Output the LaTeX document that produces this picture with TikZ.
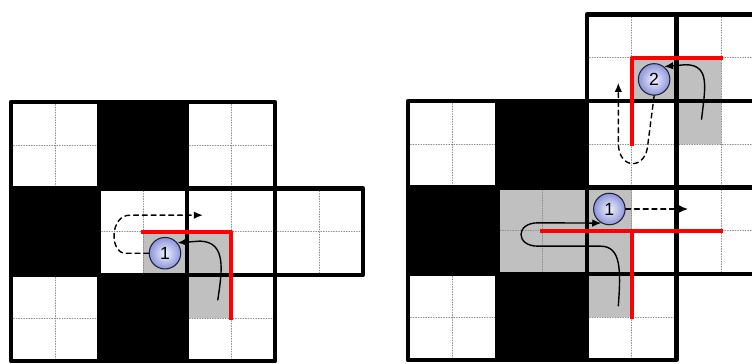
\documentclass[tikz,border=0pt]{standalone}
\usepackage{fontspec}
\setmainfont{Liberation Sans}
\usetikzlibrary{arrows.meta}
\definecolor{CellGray}{HTML}{C0C0C0}
\definecolor{HintGray}{HTML}{8A8A8A}
\definecolor{BallLight}{HTML}{F2F3FD}
\definecolor{BallBlue}{HTML}{8C95DA}
\definecolor{BallEdge}{HTML}{1E2038}
\tikzset{
  wall/.style={line width=2.5pt,line join=round},
  hint/.style={HintGray,line width=0.45pt,densely dotted},
  cut/.style={red,line width=2.3pt,line cap=rect},
  move/.style={line width=0.8pt,-{Latex[length=1.8mm,width=1.5mm]}},
  back/.style={move,dash pattern=on 2.8pt off 2.2pt},
  token/.style={circle,draw=BallEdge,line width=0.6pt,inner sep=0pt,minimum size=0.63cm,
    inner color=BallLight,outer color=BallBlue,font=\fontsize{10}{12}\selectfont}
}
\begin{document}
\begin{tikzpicture}[line cap=round,line join=round]
  \useasboundingbox (0,0) rectangle (15.04,-7.26);
  \clip (0,0) rectangle (15.04,-7.26);
  % left: one token, one move
  \begin{scope}[shift={(0.22,-2.04)},x=1.76cm,y=-1.728cm]
    \fill[CellGray] (1.5,1.5) rectangle (2,2) (2,1.5) rectangle (2.5,2.5);
    \foreach \x/\y in {0/0,2/0,1/1,2/1,3/1,0/2,2/2}{\draw[hint] (\x+.5,\y)--(\x+.5,\y+1) (\x,\y+.5)--(\x+1,\y+.5);}
    \foreach \x/\y in {1/0,0/1,1/2}{\fill (\x,\y) rectangle +(1,1);}
    \foreach \x/\y in {0/0,1/0,2/0,0/1,1/1,2/1,3/1,0/2,1/2,2/2}{\draw[wall] (\x,\y) rectangle +(1,1);}
    \draw[cut] (1.5,1.5)--(2.5,1.5)--(2.5,2.5);
    \node[token] (L1) at (1.75,1.75) {1};
    \coordinate (Lgo) at (2.18,1.31);\coordinate (Lfrom) at (2.35,2.29);
    \draw[back] (L1.west)--(1.3,1.75) .. controls (1.12,1.75) and (1.12,1.31) .. (1.35,1.31)--(Lgo);
    \draw[move] (Lfrom) .. controls (2.4,1.95) and (2.45,1.62) .. (2.15,1.61)--(L1.40);
  \end{scope}
  % right: two tokens
  \begin{scope}[shift={(8.16,-2.02)},x=1.79cm,y=-1.728cm]
    \fill[CellGray] (1,1) rectangle (2,2) (2,1) rectangle (2.5,2.5) (2.5,-.5) rectangle (3,0) (3,-.5) rectangle (3.5,.5);
    \foreach \x/\y in {2/-1,3/-1,0/0,2/0,3/0,1/1,2/1,3/1,0/2,2/2}{\draw[hint] (\x+.5,\y)--(\x+.5,\y+1) (\x,\y+.5)--(\x+1,\y+.5);}
    \foreach \x/\y in {1/0,0/1,1/2}{\fill (\x,\y) rectangle +(1,1);}
    \foreach \x/\y in {2/-1,3/-1,0/0,1/0,2/0,3/0,0/1,1/1,2/1,3/1,0/2,1/2,2/2}{\draw[wall] (\x,\y) rectangle +(1,1);}
    \draw[cut] (2.5,.5)--(2.5,-.5)--(3.5,-.5);
    \draw[cut] (1.5,1.5)--(3.5,1.5) (2.5,1.5)--(2.5,2.5);
    \node[token] (R2) at (2.75,-.25) {2};
    \node[token] (R1) at (2.25,1.25) {1};
    \coordinate (R1go) at (3.13,1.25);\coordinate (R2go) at (2.35,-.21);
    \coordinate (R1from) at (2.35,2.37);\coordinate (R2from) at (3.28,.21);
    \draw[back] (R1.east)--(R1go);
    \draw[back] (R2.south)--(2.68,.5) .. controls (2.66,.8) and (2.36,.8) .. (2.35,.5)--(R2go);
    \draw[move] (R2from) .. controls (3.32,-.15) and (3.38,-.42) .. (3.1,-.42)--(R2.52);
    \draw[move] (R1from) .. controls (2.38,1.95) and (2.38,1.68) .. (2.15,1.68)--(1.45,1.68)
      .. controls (1.2,1.68) and (1.2,1.41) .. (1.45,1.41)--(R1.240);
  \end{scope}
\end{tikzpicture}
\end{document}
